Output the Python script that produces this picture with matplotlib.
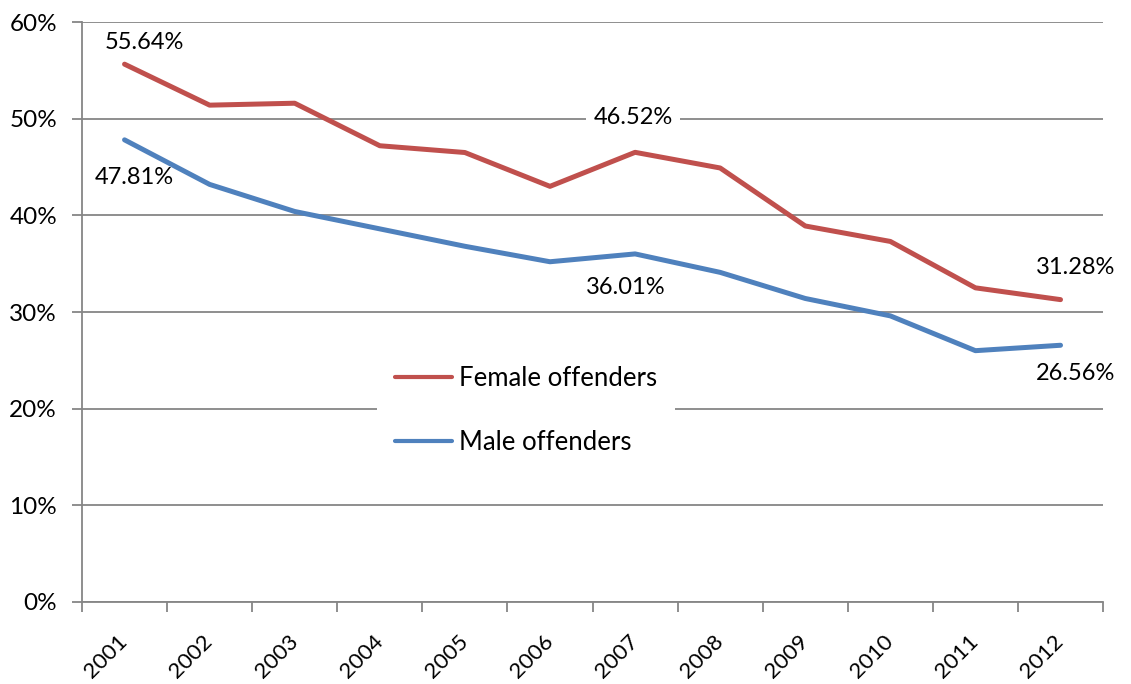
import matplotlib
matplotlib.use("Agg")
import matplotlib.pyplot as plt
from matplotlib.ticker import FixedLocator, PercentFormatter

plt.rcParams['font.family'] = ['Lato', 'DejaVu Sans']

years = ['2001', '2002', '2003', '2004', '2005', '2006',
         '2007', '2008', '2009', '2010', '2011', '2012']
female = [55.64, 51.4, 51.6, 47.2, 46.5, 43.0, 46.52, 44.9, 38.9, 37.3, 32.5, 31.28]
male = [47.81, 43.2, 40.4, 38.6, 36.8, 35.2, 36.01, 34.1, 31.4, 29.6, 26.0, 26.56]

# labelled points: (index, offset in pixels)
female_labels = [(0, (20, 22)), (6, (-2, 35)), (11, (15, 32))]
male_labels = [(0, (10, -38)), (6, (-9, -34)), (11, (15, -28))]

red = '#C0504D'
blue = '#4F81BD'
grey = '#868686'

fig = plt.figure(figsize=(11.31, 6.84), dpi=100)
ax = fig.add_axes([0.0725, 0.1199, 0.9028, 0.8479])

x = list(range(len(years)))
ax.plot(x, female, color=red, lw=3.6, label='Female offenders', solid_capstyle='round', zorder=3)
ax.plot(x, male, color=blue, lw=3.6, label='Male offenders', solid_capstyle='round', zorder=3)

ax.set_xlim(-0.5, len(years) - 0.5)
ax.set_ylim(0, 60)
ax.yaxis.set_major_locator(FixedLocator(range(0, 61, 10)))
ax.yaxis.set_major_formatter(PercentFormatter(decimals=0))
ax.grid(axis='y', color=grey, lw=1.3, zorder=0)

ax.set_xticks(x)
ax.set_xticklabels(years, rotation=45, ha='right', va='center', rotation_mode='anchor')
ax.set_xticks([i - 0.5 for i in range(len(years) + 1)], minor=True)
ax.tick_params(axis='x', which='major', length=0, pad=26, labelsize=16)
ax.tick_params(axis='x', which='minor', length=7, width=1.3, color=grey)
ax.tick_params(axis='y', length=7, width=1.3, color=grey, labelsize=17.5, pad=11)

for side in ['top', 'right']:
    ax.spines[side].set_visible(False)
for side in ['left', 'bottom']:
    ax.spines[side].set_color(grey)
    ax.spines[side].set_linewidth(1.3)

for vals, labels in [(female, female_labels), (male, male_labels)]:
    for i, off in labels:
        ax.annotate(f'{vals[i]:.2f}%', xy=(x[i], vals[i]), xytext=off,
                    textcoords='offset pixels', ha='center', va='center',
                    fontsize=17, zorder=2.5,
                    bbox=dict(boxstyle='square,pad=0.3', fc='white', ec='none'))

leg = ax.legend(loc='center', bbox_to_anchor=(0.435, 0.33), fontsize=18.5,
                frameon=True, fancybox=False, handlelength=2.2, handletextpad=0.3,
                labelspacing=1.5, borderpad=0.7, borderaxespad=0)
leg.get_frame().set_facecolor('white')
leg.get_frame().set_edgecolor('none')
leg.get_frame().set_alpha(1)
for line in leg.get_lines():
    line.set_linewidth(3)

fig.savefig('out.png', dpi=100, facecolor='white')
